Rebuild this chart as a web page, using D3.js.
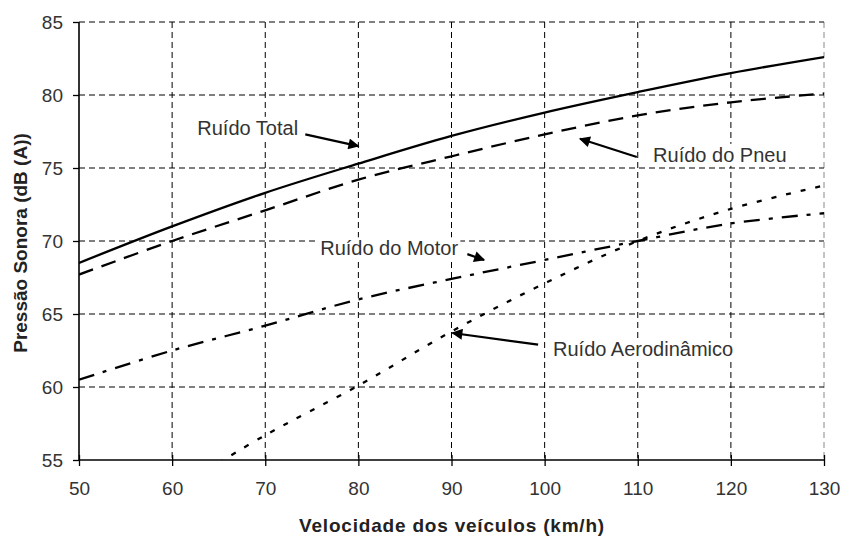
<!DOCTYPE html>
<html lang="pt">
<head>
<meta charset="UTF-8">
<title>Ruído</title>
<script src="https://cdn.jsdelivr.net/npm/d3@7"></script>
<style>
  body { margin: 0; background: #fff; }
  text { font-family: "Liberation Sans", Arial, sans-serif; }
</style>
</head>
<body>
<svg width="843" height="537"></svg>
<script>
    // dados
    var speeds = [50, 60, 70, 80, 90, 100, 110, 120, 130];
    var totalNoise = [68.5, 71.0, 73.3, 75.3, 77.2, 78.8, 80.2, 81.5, 82.6];
    var tyreNoise = [67.7, 70.0, 72.1, 74.2, 75.8, 77.3, 78.6, 79.5, 80.1];
    var engineNoise = [60.5, 62.5, 64.2, 66.0, 67.4, 68.7, 70.0, 71.2, 71.9];
    var aeroSpeeds = [65, 70, 80, 90, 100, 110, 120, 130];
    var aeroNoise = [54.8, 56.7, 60.1, 63.8, 67.1, 70.0, 72.2, 73.8];
    var xTicks = [50, 60, 70, 80, 90, 100, 110, 120, 130];
    var yTicks = [55, 60, 65, 70, 75, 80, 85];
    var labels = ['Ruído Total', 'Ruído do Pneu', 'Ruído do Motor', 'Ruído Aerodinâmico'];

    var svg = d3.select('svg'),
        margin = {top: 22, left: 79, right: 19, bottom: 77},
        width = +svg.attr('width') - margin.left - margin.right,
        height = +svg.attr('height') - margin.top - margin.bottom,
        g = svg.append('g').attr('transform', 'translate(' + margin.left + ',' + margin.top + ')');

    var x = d3.scaleLinear().domain([50, 130]).range([0, width]);
    var y = d3.scaleLinear().domain([55, 85]).range([height, 0]);

    var defs = svg.append('defs');
    defs.append('clipPath').attr('id', 'clip')
        .append('rect').attr('width', width).attr('height', height);
    defs.append('marker')
        .attr('id', 'head')
        .attr('viewBox', '0 0 10 10')
        .attr('refX', 9).attr('refY', 5)
        .attr('markerWidth', 6).attr('markerHeight', 5)
        .attr('orient', 'auto')
        .append('path').attr('d', 'M0,0 L10,5 L0,10 Z').attr('fill', '#000');

    // grade tracejada
    g.append('g')
        .selectAll('line')
        .data(xTicks.slice(1))
        .enter().append('line')
        .attr('x1', function(d){ return x(d); })
        .attr('x2', function(d){ return x(d); })
        .attr('y1', 0).attr('y2', height)
        .attr('stroke', function(d){ return d === 130 ? '#888' : '#000'; })
        .attr('stroke-width', 1)
        .attr('stroke-dasharray', '6,4');
    g.append('g')
        .selectAll('line')
        .data(yTicks.slice(1))
        .enter().append('line')
        .attr('x1', 0).attr('x2', width)
        .attr('y1', function(d){ return y(d); })
        .attr('y2', function(d){ return y(d); })
        .attr('stroke', '#000')
        .attr('stroke-width', 1)
        .attr('stroke-dasharray', '6,4');

    // eixos
    var xAxis = g.append('g')
        .attr('transform', 'translate(0,' + height + ')')
        .call(d3.axisBottom(x).tickValues(xTicks).tickSize(6).tickPadding(16));
    var yAxis = g.append('g')
        .call(d3.axisLeft(y).tickValues(yTicks).tickSize(6).tickPadding(10));
    [xAxis, yAxis].forEach(function(a){
        a.select('.domain').attr('stroke', '#000').attr('stroke-width', 1.6);
        a.selectAll('.tick line').attr('stroke', '#000').attr('stroke-width', 1.3);
        a.selectAll('.tick text').attr('fill', '#333').attr('font-size', '19px')
            .style('font-family', '"Liberation Sans", Arial, sans-serif');
    });
    yAxis.select('.domain').attr('d', 'M0,' + height + 'V0');
    xAxis.select('.domain').attr('d', 'M0,0H' + width);
    xAxis.selectAll('.tick line').attr('y1', -5);

    // curvas
    var line = d3.line()
        .x(function(d){ return x(d[0]); })
        .y(function(d){ return y(d[1]); })
        .curve(d3.curveCatmullRom);
    var series = [
        {values: d3.zip(speeds, totalNoise), dash: null},
        {values: d3.zip(speeds, tyreNoise), dash: '15,9'},
        {values: d3.zip(speeds, engineNoise), dash: '16,9,4,9'},
        {values: d3.zip(aeroSpeeds, aeroNoise), dash: '5,10'}
    ];
    g.append('g').attr('clip-path', 'url(#clip)')
        .selectAll('path')
        .data(series)
        .enter().append('path')
        .attr('d', function(d){ return line(d.values); })
        .attr('fill', 'none')
        .attr('stroke', '#000')
        .attr('stroke-width', 2.3)
        .attr('stroke-dasharray', function(d){ return d.dash; });

    // rótulos (posição em coordenadas dos dados), com fundo branco
    var labelPos = [[62.7, 77.75], [111.65, 75.9], [75.9, 69.5], [100.9, 62.6]];
    var lab = g.append('g')
        .selectAll('g')
        .data(labels)
        .enter().append('g')
        .attr('transform', function(d, i){
            return 'translate(' + x(labelPos[i][0]) + ',' + y(labelPos[i][1]) + ')';
        });
    lab.append('text')
        .attr('dy', '0.35em')
        .attr('font-size', '20px')
        .attr('fill', '#333')
        .text(function(d){ return d; });
    lab.each(function(){
        var el = d3.select(this),
            b = el.select('text').node().getBBox();
        el.insert('rect', 'text')
            .attr('x', b.x - 2).attr('y', b.y)
            .attr('width', b.width + 4).attr('height', b.height)
            .attr('fill', '#fff');
    });

    // setas
    var arrows = [
        [[74.3, 77.3], [80.0, 76.5]],
        [[109.9, 75.75], [103.8, 77.0]],
        [[91.7, 69.1], [93.5, 68.7]],
        [[99.3, 62.9], [90.1, 63.7]]
    ];
    g.append('g')
        .selectAll('line')
        .data(arrows)
        .enter().append('line')
        .attr('x1', function(d){ return x(d[0][0]); })
        .attr('y1', function(d){ return y(d[0][1]); })
        .attr('x2', function(d){ return x(d[1][0]); })
        .attr('y2', function(d){ return y(d[1][1]); })
        .attr('stroke', '#000')
        .attr('stroke-width', 2.2)
        .attr('marker-end', 'url(#head)');

    // títulos dos eixos
    svg.append('text')
        .attr('x', 452)
        .attr('y', 525)
        .attr('dy', '0.35em')
        .attr('text-anchor', 'middle')
        .attr('font-size', '19px')
        .attr('font-weight', 'bold')
        .attr('letter-spacing', '0.8px')
        .attr('fill', '#222')
        .text('Velocidade dos veículos (km/h)');
    svg.append('text')
        .attr('transform', 'translate(20,243) rotate(-90)')
        .attr('dy', '0.35em')
        .attr('text-anchor', 'middle')
        .attr('font-size', '19px')
        .attr('font-weight', 'bold')
        .attr('fill', '#222')
        .text('Pressão Sonora (dB (A))');
</script>
</body>
</html>
